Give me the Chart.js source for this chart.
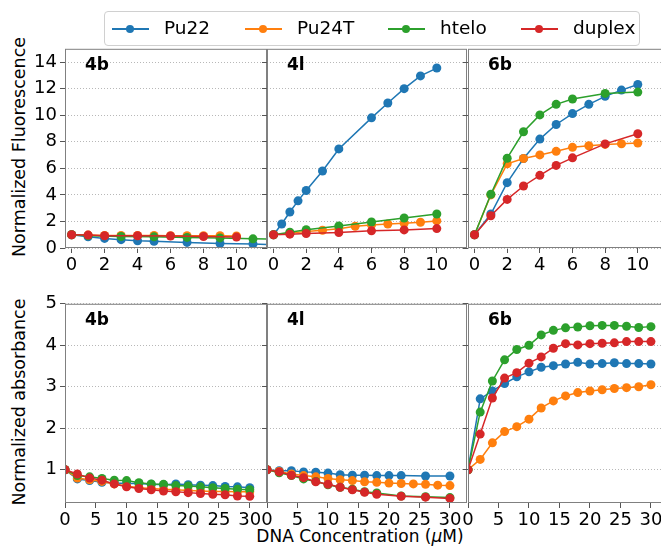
<!DOCTYPE html>
<html>
<head>
<meta charset="utf-8">
<script src="https://cdn.jsdelivr.net/npm/chart.js@4.4.0/dist/chart.umd.min.js"></script>
<style>
	html, body { margin: 0; padding: 0; background: #fff; }
	body { width: 661px; height: 550px; overflow: hidden; position: relative; font-family: "DejaVu Sans", sans-serif; color: #000; }
	.panel { position: absolute; }
	.ytitle { position: absolute; width: 300px; height: 20px; line-height: 20px; text-align: center; font-size: 17.5px; transform: rotate(-90deg); transform-origin: center center; white-space: nowrap; }
	.xtitle { position: absolute; width: 300px; text-align: center; font-size: 17px; white-space: nowrap; }
	#legend { position: absolute; left: 104px; top: 11px; width: 534px; height: 33px; border: 1px solid #d0d0d0; border-radius: 4px; background: rgba(255,255,255,0.8); box-sizing: content-box; z-index: 10; }
	.item { position: absolute; top: 0; height: 33px; }
	.item .line { position: absolute; top: 16px; width: 37px; height: 1.5px; }
	.item .dot { position: absolute; top: 13px; left: 14px; width: 8px; height: 8px; border-radius: 50%; }
	.item .txt { position: absolute; top: 5px; font-size: 18.5px; line-height: 22px; white-space: nowrap; }
</style>
</head>
<body>
<div id="legend"></div>
<div class="ytitle" style="left:-131px; top:137px;">Normalized Fluorescence</div>
<div class="ytitle" style="left:-131px; top:392px;">Normalized absorbance</div>
<div class="xtitle" style="left:210px; top:526px;">DNA Concentration (<i>μ</i>M)</div>

<script>
// Series
const seriesNames = ['Pu22', 'Pu24T', 'htelo', 'duplex'];
const seriesColors = ['#1f77b4', '#ff7f0e', '#2ca02c', '#d62728'];
const panelNames = ['4b', '4l', '6b'];

// Tick labels
const fluorXTicks = [0, 2, 4, 6, 8, 10];
const fluorYTicks = [0, 2, 4, 6, 8, 10, 12, 14];
const absXTicks = [0, 5, 10, 15, 20, 25, 30];
const absYTicks = [1, 2, 3, 4, 5];

// Shared concentrations
const flX = [0, 1, 2, 3, 4, 5, 6, 7, 8, 9, 10];
const flXsparse = [0, 1, 2, 4, 6, 8, 10];
const abX = [0, 2, 4, 6, 8, 10, 12, 14, 16, 18, 20, 22, 24, 26, 28, 30];
const abXsparse = [0, 2, 4, 6, 8, 10, 12, 14, 16, 18, 22, 26, 30];

// Fluorescence - 4b
const fl4bPu22X = [0, 1, 2, 3, 4, 5, 7, 9, 11, 13];
const fl4bPu22 = [1.0, 0.84, 0.72, 0.63, 0.55, 0.5, 0.42, 0.34, 0.3, 0.22];
const fl4bPu24T = [1.0, 0.97, 0.95, 0.94, 0.94, 0.94, 0.93, 0.92, 0.92, 0.92, 0.91];
const fl4bHteloX = [0, 1, 3, 5, 7, 9, 11, 13];
const fl4bHtelo = [1.0, 0.93, 0.87, 0.84, 0.8, 0.76, 0.69, 0.66];
const fl4bDuplex = [1.0, 0.97, 0.92, 0.92, 0.9, 0.87, 0.82];

// Fluorescence - 4l
const fl4lPu22X = [0, 0.5, 1, 1.5, 2, 3, 4, 6, 7, 8, 9, 10];
const fl4lPu22 = [1.0, 1.81, 2.71, 3.55, 4.33, 5.8, 7.46, 9.8, 10.92, 12.0, 12.96, 13.55];
const fl4lPu24T = [1.0, 1.12, 1.25, 1.34, 1.45, 1.64, 1.74, 1.81, 1.86, 1.94, 2.04];
const fl4lHtelo = [1.0, 1.19, 1.37, 1.66, 1.96, 2.26, 2.56];
const fl4lDuplex = [1.0, 1.04, 1.09, 1.16, 1.29, 1.36, 1.46];

// Fluorescence - 6b
const fl6bX = [0, 1, 2, 3, 4, 5, 6, 8, 10];
const fl6bPu22 = [1.0, 2.56, 4.92, 6.74, 8.2, 9.3, 10.12, 10.82, 11.42, 11.89, 12.31];
const fl6bPu24T = [1.0, 4.0, 6.34, 6.74, 7.01, 7.28, 7.58, 7.7, 7.8, 7.85, 7.91];
const fl6bHtelo = [1.0, 4.05, 6.76, 8.75, 10.02, 10.82, 11.22, 11.64, 11.74];
const fl6bDuplex = [1.0, 2.43, 3.66, 4.67, 5.47, 6.22, 6.79, 7.84, 8.6];

// Absorbance - 4b
const ab4bPu22 = [1.0, 0.78, 0.74, 0.70, 0.68, 0.67, 0.67, 0.65, 0.64, 0.66, 0.64, 0.63, 0.62, 0.60, 0.59, 0.57];
const ab4bPu24T = [1.0, 0.80, 0.76, 0.72, 0.66, 0.61, 0.57, 0.55, 0.53, 0.52, 0.50, 0.49, 0.48, 0.48, 0.47, 0.47];
const ab4bHtelo = [1.0, 0.86, 0.83, 0.79, 0.75, 0.74, 0.69, 0.66, 0.65, 0.62, 0.61, 0.59, 0.57, 0.55, 0.53, 0.52];
const ab4bDuplex = [1.0, 0.90, 0.80, 0.75, 0.66, 0.59, 0.55, 0.52, 0.49, 0.47, 0.45, 0.43, 0.41, 0.40, 0.37, 0.36];

// Absorbance - 4l
const ab4lPu22X = [0, 2, 4, 6, 8, 10, 12, 14, 16, 18, 20, 22, 26, 30];
const ab4lPu22 = [1.0, 0.98, 0.98, 0.95, 0.94, 0.92, 0.88, 0.87, 0.87, 0.86, 0.86, 0.86, 0.85, 0.85];
const ab4lPu24T = [1.0, 0.96, 0.90, 0.86, 0.83, 0.79, 0.76, 0.74, 0.71, 0.70, 0.68, 0.67, 0.66, 0.65, 0.63, 0.62];
const ab4lHtelo = [1.0, 0.93, 0.86, 0.78, 0.72, 0.64, 0.58, 0.53, 0.47, 0.44, 0.37, 0.35, 0.33];
const ab4lDuplex = [1.0, 0.95, 0.87, 0.81, 0.71, 0.65, 0.58, 0.52, 0.46, 0.41, 0.36, 0.34, 0.31];

// Absorbance - 6b
const ab6bPu22 = [1.0, 2.71, 2.9, 3.08, 3.24, 3.36, 3.47, 3.51, 3.55, 3.59, 3.55, 3.56, 3.58, 3.56, 3.56, 3.55];
const ab6bPu24T = [1.0, 1.25, 1.65, 1.92, 2.04, 2.22, 2.49, 2.66, 2.78, 2.86, 2.90, 2.93, 2.96, 2.98, 3.0, 3.05];
const ab6bHtelo = [1.0, 2.39, 3.14, 3.65, 3.90, 4.0, 4.25, 4.36, 4.42, 4.44, 4.47, 4.48, 4.48, 4.46, 4.43, 4.45];
const ab6bDuplex = [1.0, 1.86, 2.73, 3.21, 3.34, 3.57, 3.72, 3.93, 4.04, 4.01, 4.04, 4.05, 4.06, 4.09, 4.09, 4.09];

const rows = [
	{
		xRange: [-0.4, 11.85], yRange: [0, 15], xTicks: fluorXTicks, yTicks: fluorYTicks,
		panels: [
			{ xs: [fl4bPu22X, flX, fl4bHteloX, flXsparse], ys: [fl4bPu22, fl4bPu24T, fl4bHtelo, fl4bDuplex] },
			{ xs: [fl4lPu22X, flX, flXsparse, flXsparse], ys: [fl4lPu22, fl4lPu24T, fl4lHtelo, fl4lDuplex] },
			{ xs: [flX, flX, fl6bX, fl6bX], ys: [fl6bPu22, fl6bPu24T, fl6bHtelo, fl6bDuplex] }
		]
	},
	{
		xRange: [0, 32.8], yRange: [0.2, 5], xTicks: absXTicks, yTicks: absYTicks,
		panels: [
			{ xs: [abX, abX, abX, abX], ys: [ab4bPu22, ab4bPu24T, ab4bHtelo, ab4bDuplex] },
			{ xs: [ab4lPu22X, abX, abXsparse, abXsparse], ys: [ab4lPu22, ab4lPu24T, ab4lHtelo, ab4lDuplex] },
			{ xs: [abX, abX, abX, abX], ys: [ab6bPu22, ab6bPu24T, ab6bHtelo, ab6bDuplex] }
		]
	}
];

// Layout of the plot areas
const plotLefts = [65, 267, 468];
const plotWidths = [202, 200, 200];
const plotTops = [47, 302];
const plotHeight = 201;
const YW = 55, XH = 35, PT = 12, PR = 10;

Chart.defaults.font.family = '"DejaVu Sans", sans-serif';
Chart.defaults.font.size = 18;
Chart.defaults.color = '#000';

const framePlugin = {
	id: 'frame',
	afterDraw(chart, args, opts) {
		const { ctx, chartArea: a } = chart;
		ctx.save();
		ctx.strokeStyle = '#808080';
		ctx.lineWidth = 1;
		ctx.strokeRect(a.left + 0.5, a.top + 0.5, a.width - 1, a.height - 1);
		ctx.fillStyle = '#000';
		ctx.font = 'bold 17px "DejaVu Sans", sans-serif';
		ctx.textBaseline = 'alphabetic';
		ctx.fillText(opts.label, a.left + 20, a.top + 21);
		ctx.restore();
	}
};

function makePanel(row, col) {
	const r = rows[row];
	const p = r.panels[col];
	const div = document.createElement('div');
	div.className = 'panel';
	div.style.left = (plotLefts[col] - YW) + 'px';
	div.style.top = (plotTops[row] - PT) + 'px';
	const canvas = document.createElement('canvas');
	canvas.width = YW + plotWidths[col] + PR;
	canvas.height = PT + plotHeight + XH;
	div.appendChild(canvas);
	document.body.appendChild(div);

	const datasets = seriesNames.map((name, i) => ({
		label: name,
		data: p.xs[i].map((x, j) => ({ x: x, y: p.ys[i][j] })),
		borderColor: seriesColors[i],
		backgroundColor: seriesColors[i],
		pointBackgroundColor: seriesColors[i],
		borderWidth: 1.5,
		pointRadius: 4.5,
		pointBorderWidth: 0,
		pointHoverRadius: 4.5,
		tension: 0,
		clip: 0,
		order: seriesNames.length - 1 - i
	}));

	new Chart(canvas, {
		type: 'line',
		data: { datasets: datasets },
		options: {
			responsive: false,
			animation: false,
			events: [],
			layout: { padding: { top: PT, right: PR, left: 0, bottom: 0 } },
			plugins: {
				legend: { display: false },
				tooltip: { enabled: false },
				frame: { label: panelNames[col] }
			},
			scales: {
				x: {
					type: 'linear',
					min: r.xRange[0],
					max: r.xRange[1],
					afterBuildTicks: axis => { axis.ticks = r.xTicks.map(v => ({ value: v })); },
					afterFit: axis => { axis.height = XH; },
					ticks: { autoSkip: false, maxRotation: 0, padding: 2 },
					grid: { drawOnChartArea: false, drawTicks: true, tickLength: 5, tickColor: '#555', tickWidth: 1 },
					border: { display: false }
				},
				y: {
					type: 'linear',
					min: r.yRange[0],
					max: r.yRange[1],
					afterBuildTicks: axis => { axis.ticks = r.yTicks.map(v => ({ value: v })); },
					afterFit: axis => { axis.width = YW; },
					ticks: {
						padding: 3,
						callback: v => (col === 0 ? v : '')
					},
					grid: { color: '#b8b8b8', lineWidth: 1, tickLength: 5, tickColor: '#555', tickWidth: 1, tickBorderDash: [] },
					border: { display: false, dash: [1, 2] }
				}
			}
		},
		plugins: [framePlugin]
	});
}

for (let row = 0; row < rows.length; row++) {
	for (let col = 0; col < 3; col++) {
		makePanel(row, col);
	}
}

// Legend
const legendLefts = [7, 140, 283, 416];
const legend = document.getElementById('legend');
seriesNames.forEach((name, i) => {
	const item = document.createElement('div');
	item.className = 'item';
	item.style.left = legendLefts[i] + 'px';
	item.innerHTML = '<div class="line" style="background:' + seriesColors[i] + '"></div>' +
		'<div class="dot" style="background:' + seriesColors[i] + '"></div>' +
		'<div class="txt" style="left:52px">' + name + '</div>';
	legend.appendChild(item);
});
</script>
</body>
</html>
